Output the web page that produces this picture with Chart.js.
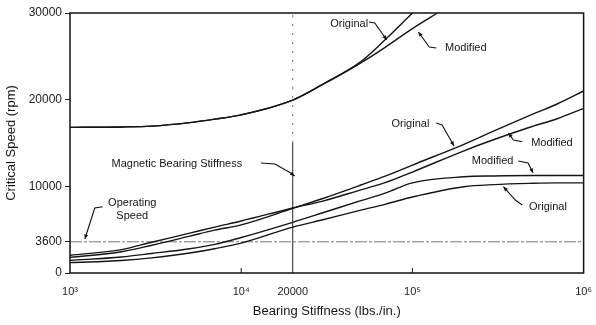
<!DOCTYPE html>
<html>
<head>
<meta charset="utf-8">
<script src="https://cdn.jsdelivr.net/npm/chart.js@4.4.0/dist/chart.umd.min.js"></script>
<style>
html, body { margin: 0; padding: 0; background: #fff; }
</style>
</head>
<body>
<canvas id="myChart" width="596" height="325"></canvas>
<script>
// valores (rigidez en lbs./in., velocidad en rpm)
const xTicks = [1000, 10000, 20000, 100000, 1000000];
const xTickLabels = ['10\u00b3', '10\u2074', '20000', '10\u2075', '10\u2076'];
const yTicks = [0, 3600, 10000, 20000, 30000];

const upperOrigX = [1000, 2000, 3000, 5000, 7000, 10000, 20000, 30000, 50000, 70000, 100000];
const upperOrigY = [16800, 16850, 16950, 17350, 17750, 18250, 19950, 21800, 24400, 27000, 30000];
const upperModX = [1000, 2000, 3000, 5000, 7000, 10000, 20000, 30000, 50000, 70000, 100000, 140000];
const upperModY = [16800, 16850, 16950, 17350, 17750, 18250, 19950, 21750, 24250, 26100, 28200, 30000];

const lowX = [1000, 2000, 3000, 5000, 7000, 10000, 20000, 30000, 50000, 70000, 100000, 200000, 300000, 500000, 700000, 1000000];
const midOrigY = [1800, 2450, 3200, 4250, 4950, 5550, 7450, 8600, 10150, 11200, 12450, 14850, 16400, 18300, 19500, 21000];
const midModY = [2050, 2700, 3550, 4600, 5300, 6000, 7500, 8300, 9600, 10450, 11650, 14100, 15400, 16900, 17800, 19000];
const lowModY = [1450, 1850, 2250, 2800, 3300, 4100, 5850, 6950, 8350, 9250, 10400, 11100, 11200, 11250, 11250, 11250];
const lowOrigY = [1200, 1450, 1750, 2300, 2800, 3450, 5300, 6150, 7250, 7950, 8770, 9950, 10200, 10350, 10400, 10400];

const operatingSpeed = 3600;
const magneticStiffness = 20000;

// textos de la figura y sus flechas (en coordenadas de datos)
const noteText = ['Original', 'Modified', 'Original', 'Modified', 'Modified', 'Original', 'Magnetic Bearing Stiffness', 'Operating', 'Speed'];
const noteX = [42700, 205000, 97300, 653000, 294000, 619000, 4210, 2310, 2310];
const noteY = [28700, 25970, 17190, 15000, 12920, 7620, 12580, 8080, 6580];
const leaderX = [
    [55700, 60300, 70800],
    [137700, 125400, 108400],
    [137700, 149000, 175000],
    [438000, 389000, 364000],
    [415000, 474000, 507000],
    [438000, 399000, 340000],
    [13060, 15740, 19450, 20500],
    [1552, 1395, 1221],
    null
];
const leaderY = [
    [28960, 28850, 26890],
    [25970, 26080, 27810],
    [17310, 17080, 14660],
    [15150, 15350, 16160],
    [12920, 12690, 11540],
    [7850, 8420, 9960],
    [12690, 12580, 11540, 11190],
    [7650, 7500, 3920],
    null
];

function pares(xs, ys) {
    return xs.map((x, i) => ({ x: x, y: ys[i] }));
}

function curva(label, data) {
    return {
        label: label,
        data: data,
        borderColor: '#151515',
        borderWidth: 1.4,
        pointRadius: 0,
        fill: false,
        cubicInterpolationMode: 'monotone'
    };
}

const fuente = '"Liberation Sans", Arial, sans-serif';

const notasPlugin = {
    id: 'notas',
    afterDatasetsDraw(chart) {
        const ctx = chart.ctx;
        const xs = chart.scales.x;
        const ys = chart.scales.y;
        const a = chart.chartArea;
        ctx.save();
        ctx.strokeStyle = '#111';
        ctx.lineWidth = 1.5;
        ctx.strokeRect(a.left, a.top, a.right - a.left, a.bottom - a.top);

        // marcas cortas hacia adentro en el eje x
        ctx.lineWidth = 1;
        [10000, 100000].forEach(v => {
            const px = xs.getPixelForValue(v);
            ctx.beginPath();
            ctx.moveTo(px, a.bottom);
            ctx.lineTo(px, a.bottom - 5);
            ctx.stroke();
        });

        ctx.font = '11px ' + fuente;
        ctx.fillStyle = '#151515';
        ctx.textAlign = 'center';
        ctx.textBaseline = 'middle';
        noteText.forEach((t, i) => {
            ctx.fillText(t, xs.getPixelForValue(noteX[i]), ys.getPixelForValue(noteY[i]));
            const lx = leaderX[i];
            const ly = leaderY[i];
            if (!lx) return;
            const pts = lx.map((x, k) => [xs.getPixelForValue(x), ys.getPixelForValue(ly[k])]);
            ctx.beginPath();
            ctx.moveTo(pts[0][0], pts[0][1]);
            for (let k = 1; k < pts.length; k++) ctx.lineTo(pts[k][0], pts[k][1]);
            ctx.lineWidth = 1.1;
            ctx.stroke();
            // punta de flecha
            const p1 = pts[pts.length - 2];
            const p2 = pts[pts.length - 1];
            const ang = Math.atan2(p2[1] - p1[1], p2[0] - p1[0]);
            ctx.beginPath();
            ctx.moveTo(p2[0], p2[1]);
            ctx.lineTo(p2[0] - 5 * Math.cos(ang - 0.4), p2[1] - 5 * Math.sin(ang - 0.4));
            ctx.lineTo(p2[0] - 5 * Math.cos(ang + 0.4), p2[1] - 5 * Math.sin(ang + 0.4));
            ctx.closePath();
            ctx.fill();
        });
        ctx.restore();
    }
};

const ctx = document.getElementById('myChart').getContext('2d');
const myChart = new Chart(ctx, {
    type: 'line',
    data: {
        datasets: [
            curva('Original (alta)', pares(upperOrigX, upperOrigY)),
            curva('Modified (alta)', pares(upperModX, upperModY)),
            curva('Original', pares(lowX, midOrigY)),
            curva('Modified', pares(lowX, midModY)),
            curva('Modified (baja)', pares(lowX, lowModY)),
            curva('Original (baja)', pares(lowX, lowOrigY)),
            {
                label: 'Operating Speed',
                data: [{ x: 1000, y: operatingSpeed }, { x: 1000000, y: operatingSpeed }],
                borderColor: '#777',
                borderWidth: 1,
                borderDash: [12, 2, 3, 2],
                pointRadius: 0
            },
            {
                label: 'Magnetic Bearing Stiffness',
                data: [{ x: magneticStiffness, y: 0 }, { x: magneticStiffness, y: 15000 }],
                borderColor: '#222',
                borderWidth: 1,
                pointRadius: 0
            },
            {
                label: 'Magnetic Bearing Stiffness (arriba)',
                data: [{ x: magneticStiffness, y: 15000 }, { x: magneticStiffness, y: 30000 }],
                borderColor: '#666',
                borderWidth: 1,
                borderDash: [2, 7],
                pointRadius: 0
            }
        ]
    },
    options: {
        responsive: false,
        animation: false,
        layout: { padding: { top: 13, right: 7, left: 0, bottom: 0 } },
        plugins: {
            legend: { display: false },
            tooltip: { enabled: false }
        },
        scales: {
            x: {
                type: 'logarithmic',
                min: 1000,
                max: 1000000,
                afterBuildTicks: (axis) => { axis.ticks = xTicks.map(v => ({ value: v })); },
                afterFit: (scale) => { scale.height = 52; },
                ticks: {
                    autoSkip: false,
                    maxRotation: 0,
                    padding: 4,
                    color: '#222',
                    font: { family: fuente, size: 11 },
                    callback: (value) => {
                        const i = xTicks.indexOf(value);
                        return i >= 0 ? xTickLabels[i] : '';
                    }
                },
                grid: { display: false },
                border: { display: false },
                title: {
                    display: true,
                    text: 'Bearing Stiffness (lbs./in.)',
                    color: '#151515',
                    font: { family: fuente, size: 13 },
                    padding: { top: 0, bottom: 6 }
                }
            },
            y: {
                min: 0,
                max: 30000,
                afterBuildTicks: (axis) => { axis.ticks = yTicks.map(v => ({ value: v })); },
                afterFit: (scale) => { scale.width = 70; },
                ticks: {
                    padding: 3,
                    color: '#222',
                    font: { family: fuente, size: 12 },
                    callback: (value) => String(value)
                },
                grid: { drawOnChartArea: false, tickLength: 5, color: '#222' },
                border: { display: false },
                title: {
                    display: true,
                    text: 'Critical Speed (rpm)',
                    color: '#151515',
                    font: { family: fuente, size: 13 },
                    padding: { top: 4, bottom: 0 }
                }
            }
        }
    },
    plugins: [notasPlugin]
});
</script>
</body>
</html>
